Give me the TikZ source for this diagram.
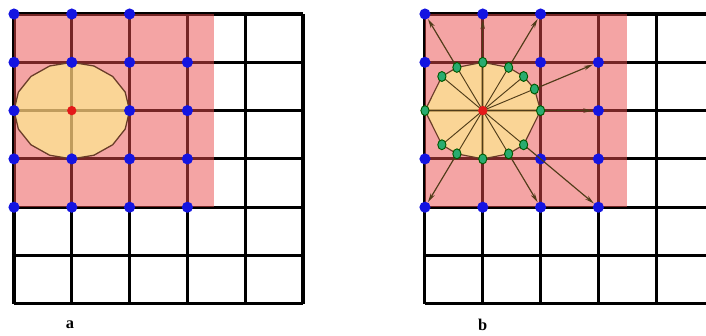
\documentclass[tikz,border=0pt]{standalone}
\usepackage{fontspec}
\setmainfont{Liberation Serif}
\usepackage{tikz}
\usetikzlibrary{arrows.meta,shapes.geometric}
\definecolor{gridpink}{RGB}{234,74,74}
\definecolor{discfill}{RGB}{255,255,140}
\definecolor{discline}{RGB}{105,60,40}
\definecolor{raycol}{RGB}{80,60,25}
\definecolor{nodeblue}{RGB}{20,20,225}
\definecolor{nodered}{RGB}{228,25,25}
\definecolor{nodegreen}{RGB}{40,172,112}

\begin{document}
\begin{tikzpicture}[x=1.734cm,y=1.449cm,>={Stealth[length=8pt,width=3.8pt]},
  gridline/.style={line width=2.6pt},
  pinkzone/.style={fill=gridpink,opacity=0.5},
  disczone/.style={fill=discfill,opacity=0.55},
  griddot/.style={circle,fill=nodeblue,inner sep=0pt,minimum size=9.5pt},
  centredot/.style={circle,fill=nodered,inner sep=0pt,minimum size=8pt},
  ringdot/.style={ellipse,fill=nodegreen,draw=black!65!green,line width=0.8pt,inner sep=0pt,minimum width=7pt,minimum height=8.5pt},
  panellabel/.style={font=\bfseries\fontsize{14}{14}\selectfont}]
  \useasboundingbox (-0.242,-0.662) rectangle (11.972,6.290);
  % panel a
  \foreach \i in {0,...,5} \draw[gridline] (\i,0) -- (\i,6);
  \foreach \j in {0,...,6} \draw[gridline] (0,\j) -- (5,\j);
  \fill[pinkzone] (0,2) rectangle (3.46,6);
  \fill[disczone] plot[samples=17,domain=0:360] ({1+cos(\x)},{4+sin(\x)}) -- cycle;
  \draw[discline,line width=1.1pt] plot[samples=17,domain=0:360] ({1+cos(\x)},{4+sin(\x)}) -- cycle;
  \foreach \p/\q in {0/6,1/6,2/6,0/5,1/5,2/5,3/5,0/4,2/4,3/4,0/3,1/3,2/3,3/3,0/2,1/2,2/2,3/2}
    \node[griddot] (a-\p-\q) at (\p,\q) {};
  \node[centredot] (a-c) at (1,4) {};
  \node[panellabel] (lab-a) at (0.97,-0.43) {a};
  % panel b
  \begin{scope}[shift={(7.11,0)}]
    \foreach \i in {0,...,4} \draw[gridline] (\i,0) -- (\i,6);
    \foreach \j in {0,...,6} \draw[gridline] (0,\j) -- (4.86,\j);
    \fill[pinkzone] (0,2) rectangle (3.5,6);
    \coordinate (b-o) at (1,4);
    % sample points on the support circle
    \foreach \k/\u/\v in {1/1/0,2/2/1,3/1/1,4/1/2,5/0/1,6/-1/2,7/-1/1,8/-1/0,9/-1/-1,10/-1/-2,11/0/-1,12/1/-2,13/1/-1}
      \coordinate (s\k) at ({1+\u/sqrt(\u*\u+\v*\v)},{4+\v/sqrt(\u*\u+\v*\v)});
    \fill[disczone] (s1) \foreach \k in {2,...,13} {-- (s\k)} -- cycle;
    \foreach \k in {1,...,13} \draw[raycol,line width=0.8pt] (b-o) -- (s\k);
    \draw[discline,line width=1pt] (s1) \foreach \k in {2,...,13} {-- (s\k)} -- cycle;
    \foreach \p/\q in {0/6,1/6,2/6,0/5,2/5,3/5,3/4,0/3,2/3,3/3,0/2,1/2,2/2,3/2}
      \node[griddot] (b-\p-\q) at (\p,\q) {};
    \foreach \k/\t in {1/3-4,2/3-5,4/2-6,5/1-6,6/0-6,10/0-2,12/2-2,13/3-2}
      \draw[->,raycol,line width=1pt] (s\k) -- (b-\t);
    \foreach \k in {1,...,13} \node[ringdot] (g\k) at (s\k) {};
    \node[centredot] (b-c) at (b-o) {};
    \node[panellabel] (lab-b) at (1,-0.43) {b};
  \end{scope}
\end{tikzpicture}
\end{document}
